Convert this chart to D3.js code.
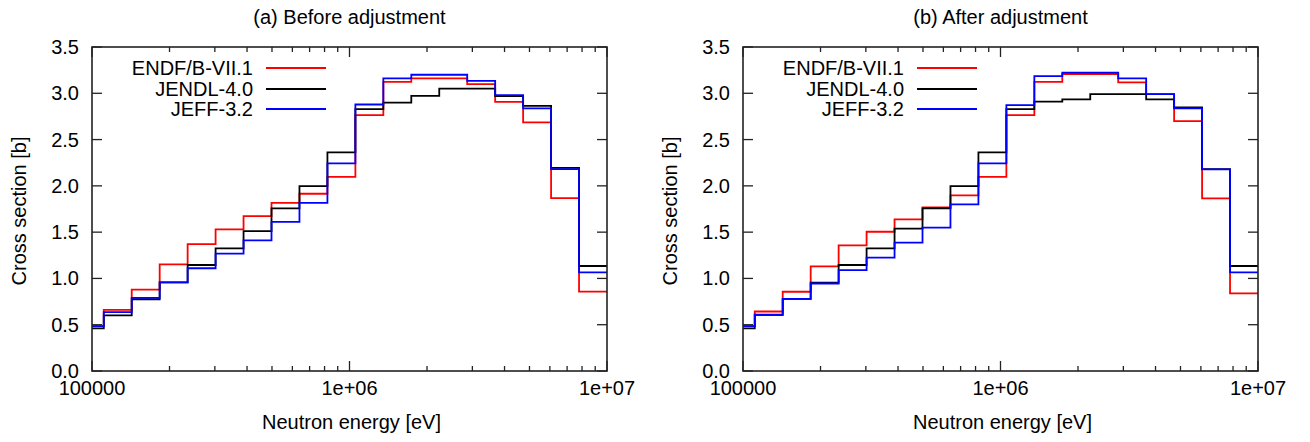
<!DOCTYPE html>
<html>
<head>
<meta charset="utf-8">
<script src="https://cdn.jsdelivr.net/npm/d3@7"></script>
<style>
  html, body { margin: 0; padding: 0; background: #fff; }
  svg { display: block; }
  text { font-family: "Liberation Sans", Arial, Helvetica, sans-serif; fill: #000; }
</style>
</head>
<body>
<svg id="chart" width="1310" height="442"></svg>
<script>
// Energy group boundaries [eV] (ascending), 19 groups
const energyBounds = [1e5, 1.1109e5, 1.4264e5, 1.8316e5, 2.3518e5, 3.0197e5, 3.8774e5, 4.9787e5,
  6.3928e5, 8.2085e5, 1.054e6, 1.3534e6, 1.7377e6, 2.2313e6, 2.865e6, 3.6788e6, 4.7237e6,
  6.0653e6, 7.788e6, 1e7];

// (a) Before adjustment — cross section [b] per group
const beforeENDF  = [0.485, 0.66, 0.878, 1.152, 1.37, 1.53, 1.674, 1.817, 1.915, 2.098, 2.765, 3.124, 3.16, 3.16, 3.10, 2.908, 2.686, 1.867, 0.857];
const beforeJENDL = [0.46, 0.60, 0.775, 0.958, 1.145, 1.325, 1.51, 1.757, 1.998, 2.361, 2.829, 2.90, 2.973, 3.05, 3.05, 2.97, 2.865, 2.195, 1.134];
const beforeJEFF  = [0.485, 0.635, 0.79, 0.958, 1.11, 1.267, 1.41, 1.61, 1.817, 2.243, 2.879, 3.16, 3.20, 3.20, 3.135, 2.98, 2.837, 2.18, 1.066];

// (b) After adjustment
const afterENDF  = [0.485, 0.643, 0.856, 1.131, 1.357, 1.504, 1.637, 1.768, 1.897, 2.098, 2.765, 3.124, 3.207, 3.207, 3.117, 2.99, 2.70, 1.865, 0.839];
const afterJENDL = [0.46, 0.61, 0.78, 0.955, 1.145, 1.325, 1.537, 1.757, 1.998, 2.361, 2.829, 2.909, 2.934, 2.991, 2.991, 2.934, 2.848, 2.18, 1.134];
const afterJEFF  = [0.485, 0.605, 0.78, 0.945, 1.09, 1.224, 1.386, 1.548, 1.80, 2.243, 2.873, 3.186, 3.222, 3.222, 3.16, 2.991, 2.837, 2.178, 1.066];

const seriesNames = ["ENDF/B-VII.1", "JENDL-4.0", "JEFF-3.2"];
const seriesColors = ["#ff0000", "#000000", "#0000ff"];
const panelTitles = ["(a) Before adjustment", "(b) After adjustment"];
const yTickValues = [0, 0.5, 1, 1.5, 2, 2.5, 3, 3.5];
const xMajorTicks = [1e5, 1e6, 1e7];
const xMajorLabels = ["100000", "1e+06", "1e+07"];
const xTitle = "Neutron energy [eV]";
const yTitle = "Cross section [b]";

const svg = d3.select("#chart");
svg.append("rect").attr("width", 1310).attr("height", 442).attr("fill", "#fff");

const FS = 20;

function drawPanel(left, data, title, idx) {
  const right = left + 515, top = 47, bottom = 371;
  const x = d3.scaleLog().domain([1e5, 1e7]).range([left, right]);
  const y = d3.scaleLinear().domain([0, 3.5]).range([bottom, top]);
  const g = svg.append("g");

  const clipId = "clip" + idx;
  svg.append("clipPath").attr("id", clipId)
    .append("rect").attr("x", left).attr("y", top).attr("width", right - left).attr("height", bottom - top);

  // minor ticks
  const minor = [];
  [1e5, 1e6].forEach(d => { for (let m = 2; m <= 9; m++) minor.push(d * m); });
  const tickG = g.append("g").attr("stroke", "#222").attr("stroke-width", 1.3);
  minor.forEach(v => {
    tickG.append("line").attr("x1", x(v)).attr("x2", x(v)).attr("y1", bottom).attr("y2", bottom - 5);
    tickG.append("line").attr("x1", x(v)).attr("x2", x(v)).attr("y1", top).attr("y2", top + 5);
  });
  xMajorTicks.forEach(v => {
    tickG.append("line").attr("x1", x(v)).attr("x2", x(v)).attr("y1", bottom).attr("y2", bottom - 10);
    tickG.append("line").attr("x1", x(v)).attr("x2", x(v)).attr("y1", top).attr("y2", top + 10);
  });
  yTickValues.forEach(v => {
    tickG.append("line").attr("x1", left).attr("x2", left + 10).attr("y1", y(v)).attr("y2", y(v));
    tickG.append("line").attr("x1", right).attr("x2", right - 10).attr("y1", y(v)).attr("y2", y(v));
  });

  // tick labels
  yTickValues.forEach(v => {
    g.append("text").attr("x", left - 13).attr("y", y(v)).attr("dy", "0.35em")
      .attr("text-anchor", "end").attr("font-size", FS).text(v.toFixed(1));
  });
  xMajorTicks.forEach((v, i) => {
    g.append("text").attr("x", x(v)).attr("y", bottom + 24)
      .attr("text-anchor", "middle").attr("font-size", FS).text(xMajorLabels[i]);
  });

  // axis titles
  g.append("text").attr("x", (left + right) / 2 + 2).attr("y", 429)
    .attr("text-anchor", "middle").attr("font-size", FS).text(xTitle);
  g.append("text").attr("transform", `translate(${left - 66},${(top + bottom) / 2 + 2}) rotate(-90)`)
    .attr("text-anchor", "middle").attr("font-size", FS).text(yTitle);
  g.append("text").attr("x", (left + right) / 2).attr("y", 24)
    .attr("text-anchor", "middle").attr("font-size", FS).text(title);

  // step lines
  const line = d3.line().x(d => x(d[0])).y(d => y(d[1])).curve(d3.curveStepAfter);
  const lg = g.append("g").attr("clip-path", `url(#${clipId})`);
  data.forEach((vals, si) => {
    const pts = vals.map((v, i) => [energyBounds[i], v]);
    pts.push([energyBounds[energyBounds.length - 1], vals[vals.length - 1]]);
    lg.append("path").attr("d", line(pts)).attr("fill", "none")
      .attr("stroke", seriesColors[si]).attr("stroke-width", 1.8);
  });

  // legend
  const legRows = [68, 89, 109];
  seriesNames.forEach((name, si) => {
    g.append("text").attr("x", left + 161).attr("y", legRows[si]).attr("dy", "0.35em")
      .attr("text-anchor", "end").attr("font-size", FS).text(name);
    g.append("line").attr("x1", left + 174).attr("x2", left + 234)
      .attr("y1", legRows[si]).attr("y2", legRows[si])
      .attr("stroke", seriesColors[si]).attr("stroke-width", 1.8);
  });

  // frame
  g.append("rect").attr("x", left).attr("y", top).attr("width", right - left).attr("height", bottom - top)
    .attr("fill", "none").attr("stroke", "#222").attr("stroke-width", 1.6);
}

drawPanel(92, [beforeENDF, beforeJENDL, beforeJEFF], panelTitles[0], 0);
drawPanel(743, [afterENDF, afterJENDL, afterJEFF], panelTitles[1], 1);
</script>
</body>
</html>
